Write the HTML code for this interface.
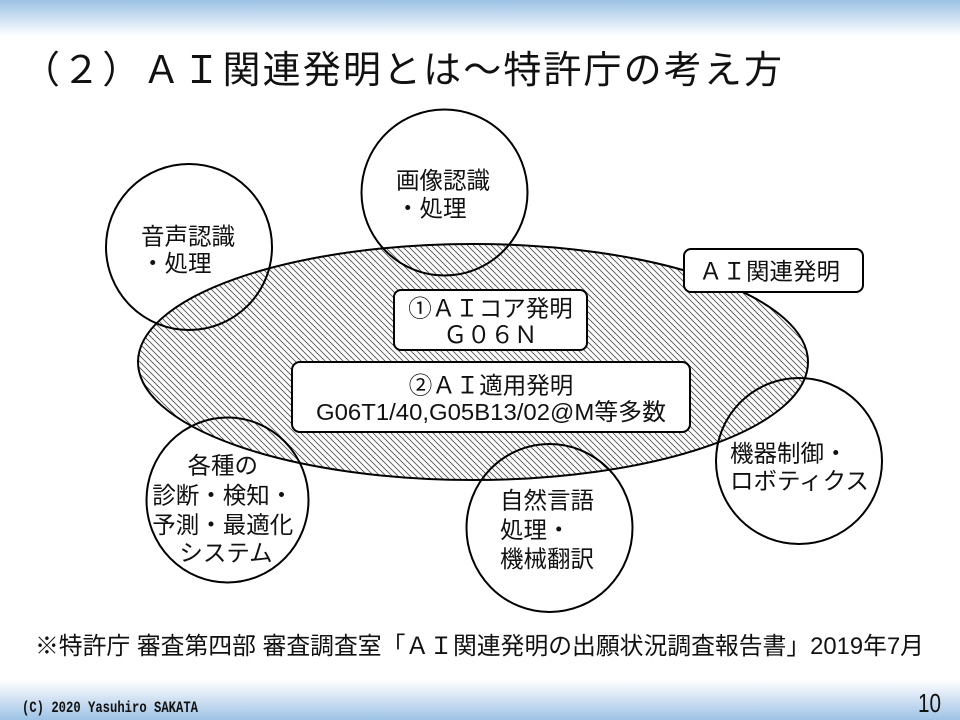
<!DOCTYPE html>
<html><head><meta charset="utf-8">
<style>
html,body{margin:0;padding:0;background:#fff;}
svg{display:block;}
text{font-family:"Liberation Sans","Noto Sans CJK JP",sans-serif;fill:#111;}
</style></head>
<body>
<svg width="960" height="720" viewBox="0 0 960 720" xmlns="http://www.w3.org/2000/svg">
<defs>
<linearGradient id="gt" x1="0" y1="0" x2="0" y2="1">
<stop offset="0" stop-color="#9cc2e5"/>
<stop offset="0.45" stop-color="#c9ddf1"/>
<stop offset="1" stop-color="#ffffff"/>
</linearGradient>
<linearGradient id="gb" x1="0" y1="0" x2="0" y2="1">
<stop offset="0" stop-color="#ffffff"/>
<stop offset="0.5" stop-color="#cfe0f2"/>
<stop offset="1" stop-color="#9dc3e6"/>
</linearGradient>
<pattern id="hatch" width="6" height="6" patternUnits="userSpaceOnUse">
<rect width="6" height="6" fill="#fff"/>
<path d="M-1,-1 L7,7 M-1,5 L1,7 M5,-1 L7,1" stroke="#555" stroke-width="0.9"/>
</pattern>
</defs>

<rect x="0" y="0" width="960" height="36" fill="url(#gt)"/>
<rect x="0" y="680" width="960" height="40" fill="url(#gb)"/>

<text x="22" y="83" font-size="38" textLength="760" lengthAdjust="spacing">（２）ＡＩ関連発明とは～特許庁の考え方</text>

<!-- main hatched ellipse -->
<ellipse cx="473" cy="362" rx="335" ry="118" fill="url(#hatch)" stroke="#000" stroke-width="2"/>

<!-- circles -->
<circle cx="189" cy="247" r="83" fill="none" stroke="#000" stroke-width="2"/>
<circle cx="444.5" cy="192.5" r="83" fill="none" stroke="#000" stroke-width="2"/>
<circle cx="799" cy="461" r="83" fill="none" stroke="#000" stroke-width="2"/>
<ellipse cx="227.5" cy="500" rx="81" ry="82.5" fill="none" stroke="#000" stroke-width="2"/>
<ellipse cx="549.5" cy="528" rx="83" ry="84" fill="none" stroke="#000" stroke-width="2"/>

<!-- boxes -->
<rect x="684" y="249" width="179" height="43" rx="7" fill="#fff" stroke="#000" stroke-width="2"/>
<rect x="394" y="290" width="193" height="60" rx="7" fill="#fff" stroke="#000" stroke-width="2"/>
<rect x="292" y="362" width="398" height="70" rx="8" fill="#fff" stroke="#000" stroke-width="2"/>

<!-- circle texts -->
<text font-size="23.5">
<tspan x="141" y="244.5">音声認識</tspan>
<tspan x="141" y="271.5">・処理</tspan>
</text>
<text font-size="23.5">
<tspan x="396" y="188.5">画像認識</tspan>
<tspan x="396" y="216.5">・処理</tspan>
</text>
<text font-size="23.5">
<tspan x="730" y="461.5">機器制御・</tspan>
<tspan x="730" y="489">ロボティクス</tspan>
</text>
<text font-size="23.5" text-anchor="middle">
<tspan x="226" y="473.5">各種の</tspan>
<tspan x="226" y="503.5">診断・検知・</tspan>
<tspan x="226" y="533">予測・最適化</tspan>
<tspan x="226" y="561">システム</tspan>
</text>
<text font-size="23.5">
<tspan x="500" y="508.5">自然言語</tspan>
<tspan x="500" y="538">処理・</tspan>
<tspan x="500" y="567">機械翻訳</tspan>
</text>

<!-- box texts -->
<text x="699" y="279.5" font-size="23.5">ＡＩ関連発明</text>
<text x="490.5" y="316.5" font-size="23.5" text-anchor="middle">①ＡＩコア発明</text>
<text x="490.5" y="343" font-size="23.5" text-anchor="middle">Ｇ０６Ｎ</text>
<text x="491" y="393.5" font-size="23.5" text-anchor="middle">②ＡＩ適用発明</text>
<text x="316" y="420" font-size="23.5" textLength="350" lengthAdjust="spacingAndGlyphs">G06T1/40,G05B13/02@M等多数</text>

<!-- footnote -->
<text x="35" y="654" font-size="24" textLength="889" lengthAdjust="spacingAndGlyphs">※特許庁 審査第四部 審査調査室「ＡＩ関連発明の出願状況調査報告書」2019年7月</text>

<!-- footer -->
<text x="22" y="712" font-size="16" font-weight="bold" style="font-family:'Liberation Mono',monospace" textLength="176" lengthAdjust="spacingAndGlyphs">(C) 2020 Yasuhiro SAKATA</text>
<text x="918" y="712" font-size="26" textLength="23" lengthAdjust="spacingAndGlyphs">10</text>
</svg>
</body></html>
